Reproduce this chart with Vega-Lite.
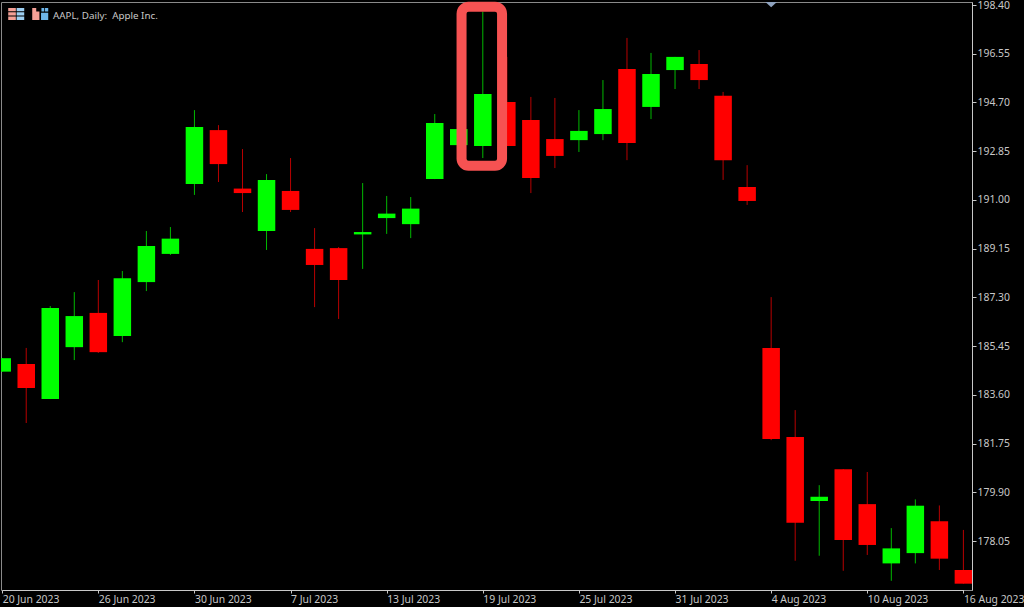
{"$schema":"https://vega.github.io/schema/vega-lite/v6.json","width":971,"height":588,"autosize":"none","padding":{"left":1,"top":2,"right":52,"bottom":17},"background":"#000000","title":{"text":"AAPL, Daily:\u00a0 Apple Inc.","anchor":"start","frame":"group","orient":"top","offset":-21,"dx":52,"font":"Noto Sans","fontSize":9.8,"fontWeight":"normal","color":"#c8c8c8"},"config":{"view":{"stroke":"#8a8a8a","strokeWidth":1,"fill":"#000000"}},"datasets":{"ohlc":[
{"date":"20 Jun 2023","open":184.48,"high":184.99,"low":184.48,"close":184.99,"dir":"up"},
{"date":"21 Jun 2023","open":184.77,"high":185.38,"low":182.53,"close":183.86,"dir":"down"},
{"date":"22 Jun 2023","open":183.44,"high":186.97,"low":183.44,"close":186.90,"dir":"up"},
{"date":"23 Jun 2023","open":185.41,"high":187.50,"low":184.92,"close":186.59,"dir":"up"},
{"date":"26 Jun 2023","open":186.71,"high":187.96,"low":185.19,"close":185.22,"dir":"down"},
{"date":"27 Jun 2023","open":185.83,"high":188.30,"low":185.60,"close":188.03,"dir":"up"},
{"date":"28 Jun 2023","open":187.88,"high":189.82,"low":187.54,"close":189.25,"dir":"up"},
{"date":"29 Jun 2023","open":188.95,"high":189.97,"low":188.91,"close":189.53,"dir":"up"},
{"date":"30 Jun 2023","open":191.60,"high":194.41,"low":191.19,"close":193.77,"dir":"up"},
{"date":"3 Jul 2023","open":193.65,"high":193.84,"low":191.68,"close":192.36,"dir":"down"},
{"date":"5 Jul 2023","open":191.43,"high":192.93,"low":190.54,"close":191.26,"dir":"down"},
{"date":"6 Jul 2023","open":189.82,"high":191.98,"low":189.10,"close":191.76,"dir":"up"},
{"date":"7 Jul 2023","open":191.34,"high":192.59,"low":190.54,"close":190.62,"dir":"down"},
{"date":"10 Jul 2023","open":189.14,"high":189.93,"low":186.93,"close":188.53,"dir":"down"},
{"date":"11 Jul 2023","open":189.17,"high":189.21,"low":186.48,"close":187.96,"dir":"down"},
{"date":"12 Jul 2023","open":189.69,"high":191.64,"low":188.38,"close":189.78,"dir":"up"},
{"date":"13 Jul 2023","open":190.31,"high":191.15,"low":189.71,"close":190.48,"dir":"up"},
{"date":"14 Jul 2023","open":190.08,"high":191.11,"low":189.55,"close":190.67,"dir":"up"},
{"date":"17 Jul 2023","open":191.79,"high":194.26,"low":191.79,"close":193.92,"dir":"up"},
{"date":"18 Jul 2023","open":193.08,"high":193.69,"low":193.08,"close":193.69,"dir":"up"},
{"date":"19 Jul 2023","open":193.05,"high":198.15,"low":192.59,"close":195.02,"dir":"up"},
{"date":"20 Jul 2023","open":194.72,"high":196.43,"low":193.05,"close":193.05,"dir":"down"},
{"date":"21 Jul 2023","open":194.03,"high":194.91,"low":191.26,"close":191.83,"dir":"down"},
{"date":"24 Jul 2023","open":193.31,"high":194.87,"low":192.21,"close":192.67,"dir":"down"},
{"date":"25 Jul 2023","open":193.27,"high":194.41,"low":192.82,"close":193.62,"dir":"up"},
{"date":"26 Jul 2023","open":193.50,"high":195.55,"low":193.27,"close":194.45,"dir":"up"},
{"date":"27 Jul 2023","open":195.97,"high":197.15,"low":192.51,"close":193.16,"dir":"down"},
{"date":"28 Jul 2023","open":194.53,"high":196.58,"low":194.07,"close":195.78,"dir":"up"},
{"date":"31 Jul 2023","open":195.93,"high":196.43,"low":195.21,"close":196.43,"dir":"up"},
{"date":"1 Aug 2023","open":196.16,"high":196.69,"low":195.21,"close":195.55,"dir":"down"},
{"date":"2 Aug 2023","open":194.95,"high":195.10,"low":191.76,"close":192.51,"dir":"down"},
{"date":"3 Aug 2023","open":191.49,"high":192.32,"low":190.81,"close":190.96,"dir":"down"},
{"date":"4 Aug 2023","open":185.38,"high":187.31,"low":181.88,"close":181.92,"dir":"down"},
{"date":"7 Aug 2023","open":182.00,"high":183.02,"low":177.30,"close":178.74,"dir":"down"},
{"date":"8 Aug 2023","open":179.57,"high":180.17,"low":177.49,"close":179.73,"dir":"up"},
{"date":"9 Aug 2023","open":180.77,"high":180.78,"low":176.92,"close":178.09,"dir":"down"},
{"date":"10 Aug 2023","open":179.45,"high":180.67,"low":177.52,"close":177.90,"dir":"down"},
{"date":"11 Aug 2023","open":177.20,"high":178.54,"low":176.54,"close":177.77,"dir":"up"},
{"date":"14 Aug 2023","open":177.59,"high":179.63,"low":177.20,"close":179.39,"dir":"up"},
{"date":"15 Aug 2023","open":178.80,"high":179.40,"low":176.95,"close":177.38,"dir":"down"},
{"date":"16 Aug 2023","open":176.95,"high":178.47,"low":176.43,"close":176.43,"dir":"down"}
],"highlight":[{"date":"19 Jul 2023","top":198.335,"bottom":192.30}],"marker":[{"date":"4 Aug 2023","price":198.42}],"icons":[{"date":"21 Jun 2023","price":198.06}]},
"encoding":{"x":{"field":"date","type":"ordinal","scale":{"type":"point","padding":0,"domain":["20 Jun 2023","21 Jun 2023","22 Jun 2023","23 Jun 2023","26 Jun 2023","27 Jun 2023","28 Jun 2023","29 Jun 2023","30 Jun 2023","3 Jul 2023","5 Jul 2023","6 Jul 2023","7 Jul 2023","10 Jul 2023","11 Jul 2023","12 Jul 2023","13 Jul 2023","14 Jul 2023","17 Jul 2023","18 Jul 2023","19 Jul 2023","20 Jul 2023","21 Jul 2023","24 Jul 2023","25 Jul 2023","26 Jul 2023","27 Jul 2023","28 Jul 2023","31 Jul 2023","1 Aug 2023","2 Aug 2023","3 Aug 2023","4 Aug 2023","7 Aug 2023","8 Aug 2023","9 Aug 2023","10 Aug 2023","11 Aug 2023","14 Aug 2023","15 Aug 2023","16 Aug 2023"],"range":[1.2,962.4]},"axis":{"title":null,"values":["20 Jun 2023","26 Jun 2023","30 Jun 2023","7 Jul 2023","13 Jul 2023","19 Jul 2023","25 Jul 2023","31 Jul 2023","4 Aug 2023","10 Aug 2023","16 Aug 2023"],"labelAngle":0,"labelAlign":"left","labelBaseline":"middle","labelPadding":6,"labelOverlap":false,"labelBound":false,"labelFlush":false,"labelFont":"Noto Sans","labelFontSize":10.4,"labelColor":"#c8c8c8","tickColor":"#c8c8c8","tickSize":3,"domainColor":"#c8c8c8","grid":false}}},
"layer":[
{"data":{"name":"ohlc"},"mark":{"type":"rule","clip":true,"strokeWidth":1,"opacity":0.72},"encoding":{"y":{"field":"low","type":"quantitative","scale":{"domain":[176.19,198.514],"nice":false,"zero":false},"axis":{"title":null,"orient":"right","values":[198.40,196.55,194.70,192.85,191.00,189.15,187.30,185.45,183.60,181.75,179.90,178.05],"format":".2f","labelFont":"Noto Sans","labelFontSize":10.4,"labelColor":"#c8c8c8","labelPadding":1,"tickColor":"#c8c8c8","tickSize":4,"domainColor":"#c8c8c8","grid":false,"labelOverlap":false,"labelBound":false,"labelFlush":false}},"y2":{"field":"high"},"color":{"field":"dir","type":"nominal","scale":{"domain":["up","down"],"range":["#00ff00","#ff0000"]},"legend":null}}},
{"data":{"name":"ohlc"},"mark":{"type":"bar","clip":true,"size":17.5},"encoding":{"y":{"field":"open","type":"quantitative"},"y2":{"field":"close"},"color":{"field":"dir","type":"nominal","legend":null}}},
{"data":{"name":"highlight"},"mark":{"type":"bar","size":40.5,"xOffset":-1,"fill":null,"fillOpacity":0,"stroke":"#f65252","strokeWidth":10,"cornerRadius":7},"encoding":{"y":{"field":"top","type":"quantitative"},"y2":{"field":"bottom"}}},
{"data":{"name":"marker"},"mark":{"type":"point","filled":true,"clip":true,"opacity":1,"color":"#8fa3bf","size":144,"shape":"M-1,-0.45L1,-0.45L0,0.45Z"},"encoding":{"y":{"field":"price","type":"quantitative"}}},
{"data":{"name":"icons"},"mark":{"type":"point","filled":true,"opacity":1,"color":"#f4a096","size":256,"xOffset":-10,"shape":"M-1,-.75H-.05V-.33H-1Z M-1,-.2H-.05V.2H-1Z M-1,.33H-.05V.75H-1Z"},"encoding":{"y":{"field":"price","type":"quantitative"}}},
{"data":{"name":"icons"},"mark":{"type":"point","filled":true,"opacity":1,"color":"#9ccff2","size":256,"xOffset":-10,"shape":"M.05,-.75H1V-.33H.05Z M.05,-.2H1V.2H.05Z M.05,.33H1V.75H.05Z"},"encoding":{"y":{"field":"price","type":"quantitative"}}},
{"data":{"name":"icons"},"mark":{"type":"point","filled":true,"opacity":1,"color":"#f4a096","size":256,"xOffset":14,"shape":"M-1,-.75H-.5V-.3H-.1V.75H-1Z"},"encoding":{"y":{"field":"price","type":"quantitative"}}},
{"data":{"name":"icons"},"mark":{"type":"point","filled":true,"opacity":1,"color":"#6db6ea","size":256,"xOffset":14,"shape":"M.15,-.75H.5V-.3H.15Z M.1,-.15H1V.75H.1Z M.6,-.75H1V-.3H.6Z"},"encoding":{"y":{"field":"price","type":"quantitative"}}}
]}
